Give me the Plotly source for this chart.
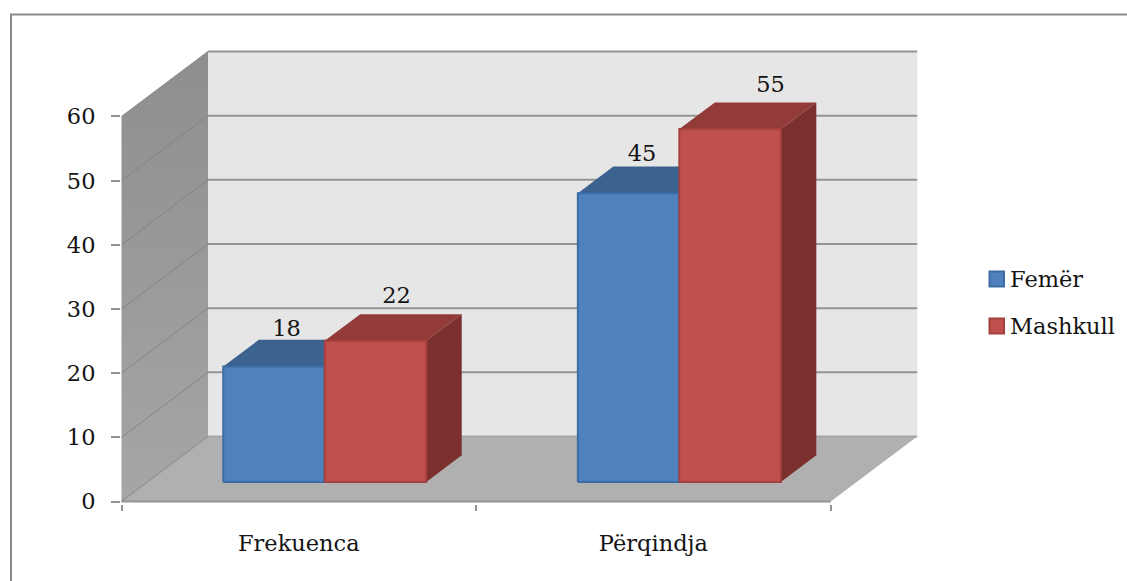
import plotly.graph_objects as go

# Chart data
categories = ["Frekuenca", "Përqindja"]
femer = [18, 45]
mashkull = [22, 55]
y_ticks = [0, 10, 20, 30, 40, 50, 60]

# Pixel scale of the axes and oblique projection used for the depth direction
PX_PER_CAT = 354.6
PX_PER_UNIT = 6.417
WALL_DX_PX, WALL_DY_PX = 86.5, 65.0
WALL_DX = WALL_DX_PX / PX_PER_CAT
WALL_DY = WALL_DY_PX / PX_PER_UNIT
BAR_FRONT, BAR_BACK = 0.30, 0.71       # depth span of the bars, 0 = front, 1 = back wall
BAR_WIDTH = 101.5 / PX_PER_CAT

L, R, T, B = 121, 202, 45, 77
WIDTH, HEIGHT = 1127, 581
PLOT_W, PLOT_H = WIDTH - L - R, HEIGHT - T - B
ZERO_INSET_PX = 2.5     # room under the baseline so its stroke is not clipped
LEFT_INSET_PX = 0.5
XMIN = -0.5
XAX_END = len(categories) - 0.5
YMAX_TICK = y_ticks[-1]

FONT = "DejaVu Serif"
FONT_SIZE = 22.5
TEXT = "#141414"
GRID = "#939393"

SERIES = [
    dict(name="Femër", values=femer, front="#4f81bd", edge="#3c6ca4",
         top="#3c6290", side="#345680", key_y=279,
         nudge_x=[12.5, 13.5], nudge_y=[9, 11]),
    dict(name="Mashkull", values=mashkull, front="#c0504d", edge="#a4403d",
         top="#933b39", side="#7b302e", key_y=326,
         nudge_x=[21, 40.5], nudge_y=[17, 16]),
]


def depth(xv, yv, d):
    """Project an axis-space point to depth d (0 front, 1 back wall)."""
    return xv + d * WALL_DX, yv + d * WALL_DY


def poly(points, fill, line=None, width=0, **kw):
    xs, ys = zip(*points)
    return go.Scatter(
        x=list(xs) + [xs[0]], y=list(ys) + [ys[0]], mode="lines", fill="toself",
        fillcolor=fill, line=dict(color=line or fill, width=width),
        showlegend=False, hoverinfo="skip", **kw,
    )


def seg(p0, p1, color=GRID, width=2):
    return go.Scatter(
        x=[p0[0], p1[0]], y=[p0[1], p1[1]], mode="lines",
        line=dict(color=color, width=width), showlegend=False, hoverinfo="skip",
    )


fig = go.Figure()

# Floor, back wall and side wall
fig.add_trace(poly([depth(XMIN, 0, 0), depth(XAX_END, 0, 0),
                    depth(XAX_END, 0, 1), depth(XMIN, 0, 1)], "#b0b0b0"))
fig.add_trace(poly([depth(XMIN, 0, 1), depth(XAX_END, 0, 1),
                    depth(XAX_END, YMAX_TICK, 1), depth(XMIN, YMAX_TICK, 1)], "#e6e6e6"))
side_wall = poly([depth(XMIN, 0, 0), depth(XMIN, 0, 1),
                  depth(XMIN, YMAX_TICK, 1), depth(XMIN, YMAX_TICK, 0)], "#999999")
side_wall.update(fillgradient=dict(type="vertical",
                                   colorscale=[[0, "#a6a6a6"], [1, "#8e8e8e"]]))
fig.add_trace(side_wall)

# Gridlines on both walls, then the floor edge and the axis baseline
for tick in y_ticks:
    if tick > 0:
        fig.add_trace(seg(depth(XMIN, tick, 1), depth(XAX_END, tick, 1)))
    fig.add_trace(seg(depth(XMIN, tick, 0), depth(XMIN, tick, 1), color="#858585", width=1))
fig.add_trace(seg(depth(XMIN, 0, 1), depth(XAX_END, 0, 1), color="#a6a6a6", width=2))
fig.add_trace(seg(depth(XMIN, 0, 0), depth(XAX_END, 0, 0)))

# Bars, left to right so that each one overlaps its neighbour's side
for i_cat in range(len(categories)):
    for i_ser, s in enumerate(SERIES):
        v = s["values"][i_cat]
        left = i_cat + (i_ser - 1) * BAR_WIDTH
        right = left + BAR_WIDTH
        f_l0 = depth(left, 0, BAR_FRONT)
        f_r0 = depth(right, 0, BAR_FRONT)
        f_lv = depth(left, v, BAR_FRONT)
        f_rv = depth(right, v, BAR_FRONT)
        b_lv = depth(left, v, BAR_BACK)
        b_rv = depth(right, v, BAR_BACK)
        b_r0 = depth(right, 0, BAR_BACK)
        fig.add_trace(poly([f_r0, b_r0, b_rv, f_rv], s["side"]))
        fig.add_trace(poly([f_lv, f_rv, b_rv, b_lv], s["top"]))
        fig.add_trace(poly([f_l0, f_r0, f_rv, f_lv], s["front"], line=s["edge"], width=2,
                           name=s["name"]))

# Value labels above the bar tops
for i_ser, s in enumerate(SERIES):
    xs, ys = [], []
    for i_cat, v in enumerate(s["values"]):
        left = i_cat + (i_ser - 1) * BAR_WIDTH
        _, top = depth(left + BAR_WIDTH / 2, v, BAR_BACK)
        fx, _ = depth(left + BAR_WIDTH / 2, v, BAR_FRONT)
        xs.append(fx + s["nudge_x"][i_cat] / PX_PER_CAT)
        ys.append(top + s["nudge_y"][i_cat] / PX_PER_UNIT)
    fig.add_trace(go.Scatter(
        x=xs, y=ys, mode="text", text=[str(v) for v in s["values"]],
        textposition="middle center", textfont=dict(family=FONT, size=FONT_SIZE, color=TEXT),
        showlegend=False, hoverinfo="skip", cliponaxis=False,
    ))


def px_x(px):
    return (px - L) / PLOT_W


def px_y(py):
    return 1 - (py - T) / PLOT_H


# Outer chart frame, open on the right and bottom
shapes = [
    dict(type="line", xref="paper", yref="paper", x0=px_x(10), x1=px_x(WIDTH),
         y0=px_y(14.5), y1=px_y(14.5), line=dict(color="#8a8a8a", width=2)),
    dict(type="line", xref="paper", yref="paper", x0=px_x(11), x1=px_x(11),
         y0=px_y(14), y1=px_y(HEIGHT), line=dict(color="#8a8a8a", width=2)),
]

# Legend key: square swatches with the series names beside them
annotations = []
for s in SERIES:
    shapes.append(dict(type="rect", xref="paper", yref="paper",
                       x0=px_x(989.5), x1=px_x(1004),
                       y0=px_y(s["key_y"] - 7.5), y1=px_y(s["key_y"] + 7.5),
                       fillcolor=s["front"], line=dict(color=s["edge"], width=2)))
    annotations.append(dict(xref="paper", yref="paper", x=px_x(1008), y=px_y(s["key_y"]),
                            text=s["name"], showarrow=False, xanchor="left", yanchor="middle",
                            font=dict(family=FONT, size=FONT_SIZE, color=TEXT)))

fig.update_layout(
    width=WIDTH, height=HEIGHT,
    margin=dict(l=L, r=R, t=T, b=B, pad=0),
    paper_bgcolor="white", plot_bgcolor="white",
    font=dict(family=FONT, size=FONT_SIZE, color=TEXT),
    shapes=shapes,
    annotations=annotations,
    showlegend=False,
    xaxis=dict(
        range=[XMIN - LEFT_INSET_PX / PX_PER_CAT,
               XMIN + (PLOT_W - LEFT_INSET_PX) / PX_PER_CAT],
        tickmode="array", tickvals=list(range(len(categories))), ticktext=categories,
        ticks="", showgrid=False, zeroline=False, showline=False,
        ticklabelstandoff=23,
        minor=dict(tickmode="array",
                   tickvals=[XMIN + i for i in range(len(categories) + 1)],
                   ticks="outside", ticklen=6, tickwidth=2, tickcolor=GRID, showgrid=False),
    ),
    yaxis=dict(
        range=[-ZERO_INSET_PX / PX_PER_UNIT, (PLOT_H - ZERO_INSET_PX) / PX_PER_UNIT],
        tickmode="array", tickvals=y_ticks, ticks="outside", ticklen=9, tickwidth=2,
        tickcolor=GRID, showgrid=False, zeroline=False, showline=False,
        ticklabelstandoff=11,
    ),
)

fig.write_html("out.html")
